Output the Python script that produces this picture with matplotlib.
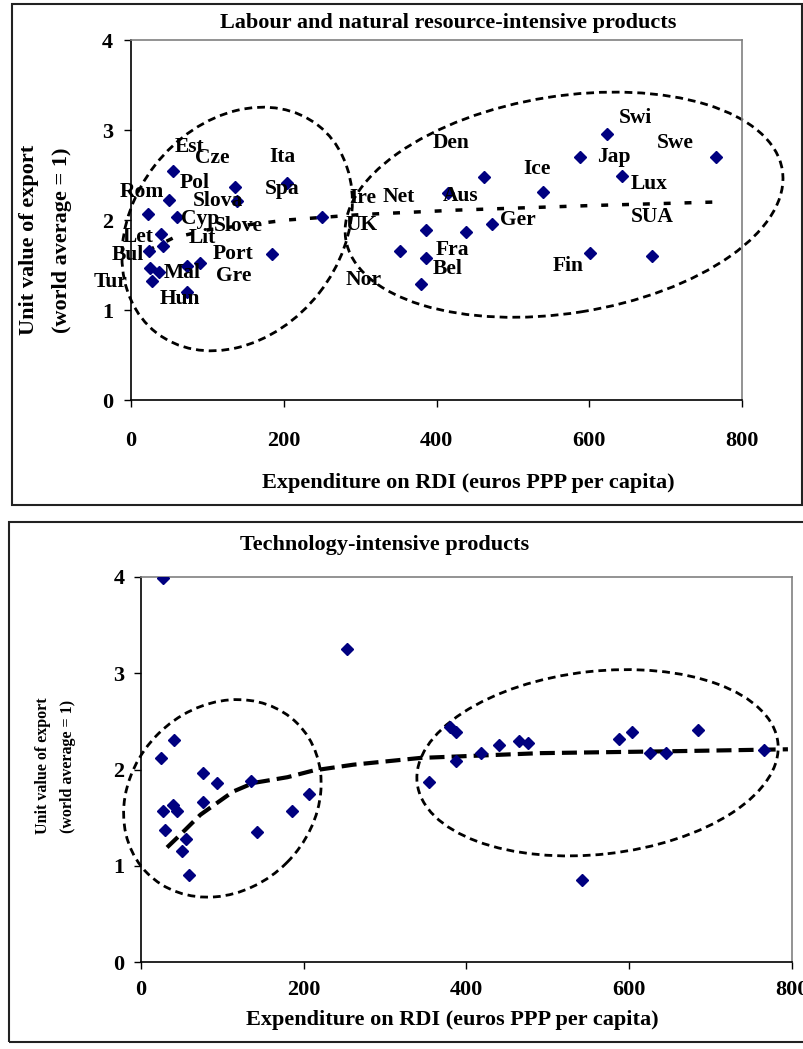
import matplotlib.pyplot as plt
import matplotlib.transforms as mtransforms
from matplotlib.patches import Ellipse, Rectangle

# %% data
# top panel: labour and natural resource-intensive products
top_x = [55, 136, 204, 50, 139, 22, 60, 39, 42, 24, 185, 25, 37, 73, 90, 27.5, 73, 250,
         415, 386, 438, 352, 386, 380, 462, 539, 473, 623, 588, 643, 766, 601, 682]
top_y = [2.54, 2.37, 2.41, 2.22, 2.21, 2.07, 2.03, 1.85, 1.71, 1.66, 1.62, 1.47, 1.42, 1.49, 1.52, 1.32, 1.20, 2.03,
         2.30, 1.89, 1.87, 1.66, 1.58, 1.29, 2.48, 2.31, 1.96, 2.96, 2.70, 2.49, 2.70, 1.63, 1.60]

# country labels of the top panel and where they sit (data units)
top_names = ['Est', 'Cze', 'Ita', 'Pol', 'Spa', 'Rom', 'Slova', 'Cyp', 'Slove', 'Let', 'Lit',
             'Bul', 'Port', 'Mal', 'Gre', 'Tur', 'Hun', 'Ire', 'Net', 'UK', 'Den', 'Aus',
             'Fra', 'Bel', 'Nor', 'Swi', 'Swe', 'Jap', 'Ice', 'Lux', 'Ger', 'SUA', 'Fin']
name_x = [77, 107, 198, 84, 198, 14, 114, 90, 140, 9, 93, -4, 134, 67, 134, -27, 64, 304, 350,
          302, 419, 431, 421, 415, 304, 660, 712, 632, 531, 678, 507, 682, 572]
name_y = [2.81, 2.69, 2.70, 2.41, 2.34, 2.31, 2.21, 2.01, 1.93, 1.81, 1.80, 1.61, 1.62, 1.41,
          1.38, 1.31, 1.12, 2.24, 2.26, 1.94, 2.86, 2.27, 1.67, 1.46, 1.33, 3.13, 2.86, 2.70,
          2.57, 2.40, 2.00, 2.03, 1.49]

# trend line of the top panel
top_trend_x = [22, 55, 100, 204, 300, 427, 600, 766]
top_trend_y = [1.66, 1.80, 1.89, 2.00, 2.06, 2.11, 2.16, 2.20]

# bottom panel: technology-intensive products
bot_x = [27, 41, 25, 76, 93, 135, 27, 39, 44, 76, 30, 55, 50, 59, 143, 186, 207,
         253, 380, 387, 354, 387, 418, 440, 464, 476, 588, 603, 626, 645, 684, 766, 542]
bot_y = [3.99, 2.31, 2.12, 1.96, 1.86, 1.88, 1.57, 1.63, 1.57, 1.66, 1.37, 1.28, 1.15, 0.90, 1.35, 1.57, 1.75,
         3.25, 2.44, 2.39, 1.87, 2.09, 2.17, 2.25, 2.30, 2.28, 2.32, 2.39, 2.17, 2.17, 2.41, 2.20, 0.85]

bot_trend_x = [32, 48, 73, 113, 138, 180, 212, 261, 343, 491, 654, 795]
bot_trend_y = [1.19, 1.32, 1.53, 1.77, 1.86, 1.92, 1.99, 2.05, 2.12, 2.17, 2.19, 2.21]

x_ticks = [0, 200, 400, 600, 800]
y_ticks = [0, 1, 2, 3, 4]

# %% drawing
W, H = 804, 1049
fig = plt.figure(figsize=(W / 100, H / 100), dpi=100)
plt.rcParams['font.family'] = ['Liberation Serif', 'DejaVu Serif']
plt.rcParams['font.weight'] = 'bold'

NAVY = '#000080'
GREY = '#808080'


def px_rect(left, top, right, bottom):
    ''' figure-fraction box from pixel edges '''
    return [left / W, 1 - bottom / H, (right - left) / W, (bottom - top) / H]


def fx(px):
    return px / W


def fy(py):
    return 1 - py / H


def ring(ax, cx, cy, w_px, h_px, ang):
    ''' dashed ellipse drawn round a cluster, sized in pixels '''
    tr = fig.dpi_scale_trans + mtransforms.ScaledTranslation(cx, cy, ax.transData)
    e = Ellipse((0, 0), w_px / 100, h_px / 100, angle=ang, transform=tr, fill=False,
                ec='black', lw=2.0, linestyle=(0, (2.8, 1.8)), clip_on=False)
    ax.add_patch(e)


def style_axes(ax, xpad, ypad):
    ax.set_xlim(0, 800)
    ax.set_ylim(0, 4)
    ax.set_xticks(x_ticks)
    ax.set_yticks(y_ticks)
    ax.spines['left'].set_color('black')
    ax.spines['bottom'].set_color('black')
    ax.spines['top'].set_color(GREY)
    ax.spines['right'].set_color(GREY)
    for s in ax.spines.values():
        s.set_linewidth(1.2)
    ax.tick_params(axis='x', direction='out', length=5, width=1, pad=xpad, labelsize=16)
    ax.tick_params(axis='y', direction='out', length=5, width=1, pad=ypad, labelsize=16)
    for lab in ax.get_xticklabels() + ax.get_yticklabels():
        lab.set_fontweight('bold')


# outer frames
fig.patches.append(Rectangle((fx(12), fy(505)), fx(802.5) - fx(12), fy(4) - fy(505),
                             transform=fig.transFigure, fill=False, ec='#222222', lw=1.5))
fig.patches.append(Rectangle((fx(9), fy(1042)), fx(812) - fx(9), fy(522) - fy(1042),
                             transform=fig.transFigure, fill=False, ec='#222222', lw=1.5))

# top panel
ax1 = fig.add_axes(px_rect(131, 40, 742, 400))
style_axes(ax1, 17, 8)
ax1.plot(top_x, top_y, 'D', color=NAVY, markersize=6, zorder=3)
ax1.plot(top_trend_x, top_trend_y, color='black', lw=2.5, linestyle=(0, (2, 4)), zorder=2)
for n, x, y in zip(top_names, name_x, name_y):
    ax1.text(x, y, n, ha='center', va='center', fontsize=15.5, fontweight='bold',
             clip_on=False, zorder=4)
ring(ax1, 139, 1.90, 263, 208, 52)
ring(ax1, 567, 2.17, 442, 217, 9)

fig.text(fx(220), fy(23), 'Labour and natural resource-intensive products', ha='left',
         va='center', fontsize=16, fontweight='bold')
fig.text(fx(262), fy(483), 'Expenditure on RDI (euros PPP per capita)', ha='left',
         va='center', fontsize=16, fontweight='bold')
fig.text(fx(29), fy(240), 'Unit value of export', rotation=90, ha='center', va='center',
         fontsize=16, fontweight='bold')
fig.text(fx(62), fy(240), '(world average = 1)', rotation=90, ha='center', va='center',
         fontsize=16, fontweight='bold')

# bottom panel
ax2 = fig.add_axes(px_rect(141, 577, 792, 962))
style_axes(ax2, 8, 7)
ax2.plot(bot_x, bot_y, 'D', color=NAVY, markersize=6, zorder=3)
ax2.plot(bot_trend_x, bot_trend_y, color='black', lw=3, linestyle=(0, (3.6, 1.7)), zorder=2)
ring(ax2, 100, 1.70, 212, 182, 45)
ring(ax2, 561, 2.07, 363, 183, 6.4)

fig.text(fx(240), fy(545), 'Technology-intensive products', ha='left', va='center',
         fontsize=16, fontweight='bold')
fig.text(fx(246), fy(1020), 'Expenditure on RDI (euros PPP per capita)', ha='left',
         va='center', fontsize=16, fontweight='bold')
fig.text(fx(43), fy(766), 'Unit value of export', rotation=90, ha='center', va='center',
         fontsize=11.5, fontweight='bold')
fig.text(fx(68), fy(766), '(world average = 1)', rotation=90, ha='center', va='center',
         fontsize=11.5, fontweight='bold')

fig.savefig('out.png', dpi=100)
